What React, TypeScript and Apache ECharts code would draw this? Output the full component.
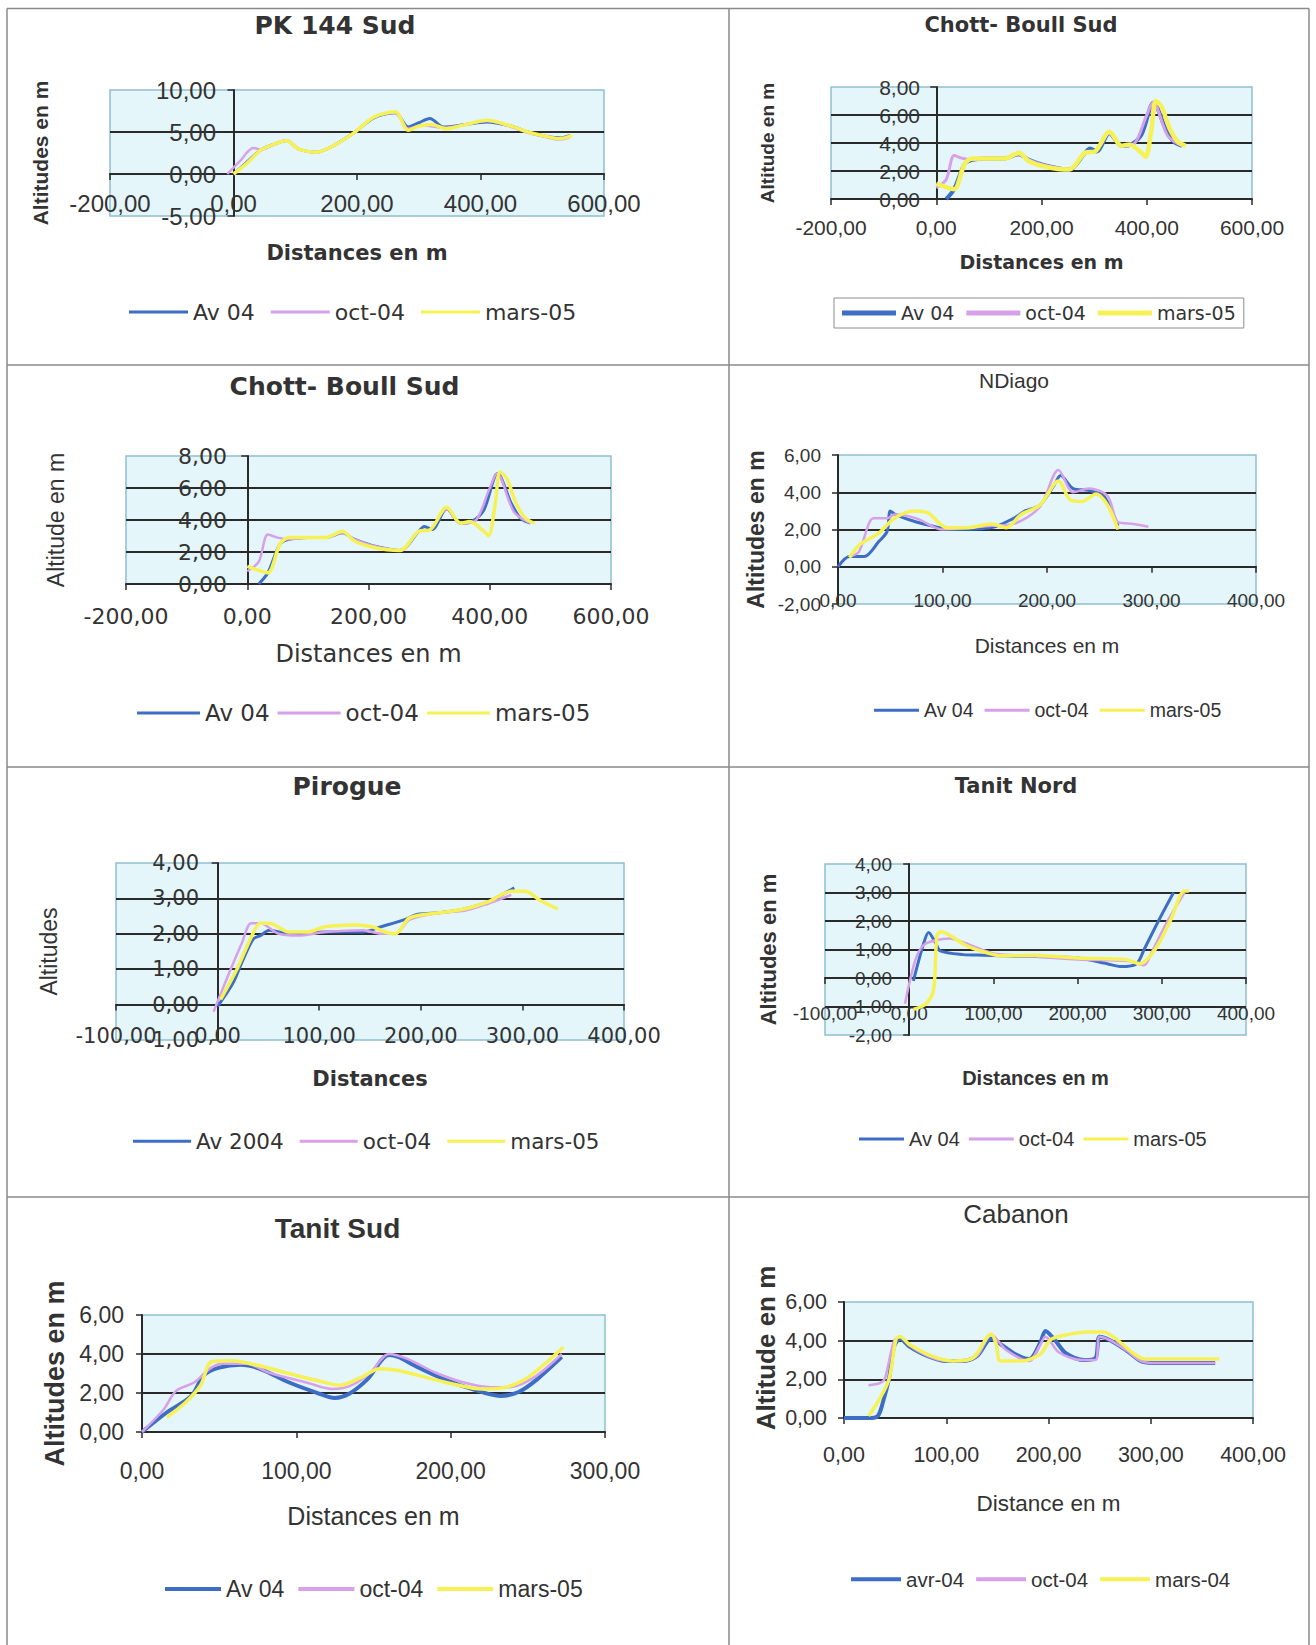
import React, { useEffect, useRef } from "react";
import * as echarts from "echarts";

// ---------------- Series names ----------------
const NAMES_STD = ["Av 04", "oct-04", "mars-05"];
const NAMES_PIROGUE = ["Av 2004", "oct-04", "mars-05"];
const NAMES_CABANON = ["avr-04", "oct-04", "mars-04"];

// ---------------- Data: [distance m, altitude m] ----------------
// PK 144 Sud
const pk144Av04 = [[0,0],[20,1.3],[45,2.9],[68,3.6],[86,4.0],[105,3.0],[135,2.6],[165,3.5],[195,4.9],[228,6.7],[262,7.3],[283,5.6],[300,6.1],[318,6.6],[340,5.6],[376,5.9],[410,6.2],[450,5.7],[477,5.0],[505,4.5],[530,4.3],[545,4.6]];
const pk144Oct04 = [[-10,0],[10,1.5],[32,3.1],[45,2.9],[68,3.6],[86,4.0],[105,3.0],[135,2.6],[165,3.5],[195,4.9],[228,6.8],[262,7.3],[283,5.4],[305,5.8],[340,5.5],[376,5.9],[410,6.3],[450,5.6],[477,4.9],[505,4.4],[528,4.1],[545,4.4]];
const pk144Mars05 = [[0,0],[22,1.3],[45,2.9],[68,3.6],[86,4.0],[105,3.0],[135,2.6],[165,3.5],[195,4.9],[228,6.8],[262,7.4],[283,5.2],[300,5.7],[320,5.9],[345,5.4],[376,5.9],[410,6.4],[450,5.7],[477,5.0],[505,4.5],[528,4.2],[548,4.6]];

// Chott- Boull Sud
const chottAv04 = [[19,0],[34,0.7],[54,2.5],[69,2.8],[100,2.9],[130,2.9],[157,3.2],[176,2.8],[207,2.4],[252,2.1],[283,3.3],[292,3.6],[305,3.4],[329,4.7],[352,3.8],[370,3.9],[390,4.6],[413,6.9],[436,5.0],[451,4.1],[467,3.8]];
const chottOct04 = [[0,0.8],[19,1.4],[34,3.1],[50,2.9],[69,2.8],[100,2.9],[130,2.9],[157,3.2],[176,2.8],[207,2.4],[252,2.1],[283,3.3],[302,3.4],[329,4.7],[352,3.8],[375,3.9],[400,6.0],[412,6.9],[440,4.5],[467,3.8]];
const chottMars05 = [[0,1.1],[15,0.9],[34,0.7],[54,2.5],[69,2.9],[100,2.9],[130,2.9],[157,3.3],[176,2.7],[207,2.3],[252,2.1],[283,3.3],[302,3.4],[329,4.8],[352,3.8],[367,3.9],[390,3.3],[398,3.0],[409,5.0],[417,7.0],[428,6.6],[444,5.0],[459,4.1],[474,3.8]];

// NDiago
const ndiagoAv04 = [[0,0],[11,0.55],[25,0.55],[39,1.35],[47,1.9],[50,3.0],[55,2.8],[75,2.4],[97,2.1],[111,2.0],[147,2.1],[168,2.6],[179,3.0],[193,3.3],[207,4.4],[213,4.9],[225,4.2],[240,4.1],[254,3.8],[261,3.1],[268,2.2]];
const ndiagoOct04 = [[11,0.55],[20,0.8],[34,2.6],[47,2.6],[54,2.8],[75,2.6],[100,2.0],[147,2.2],[168,2.3],[193,3.2],[211,5.2],[225,4.0],[240,4.2],[258,3.8],[268,2.4],[283,2.3],[297,2.15]];
const ndiagoMars05 = [[11,0.5],[21,1.2],[39,1.8],[54,2.6],[72,3.0],[86,2.9],[104,2.1],[125,2.1],[147,2.3],[161,2.1],[175,2.8],[193,3.3],[211,4.6],[222,3.6],[233,3.5],[247,3.9],[258,3.3],[268,2.0]];

// Pirogue
const pirogueAv2004 = [[0,-0.05],[15,0.6],[24,1.2],[35,1.85],[42,1.95],[51,2.1],[70,2.0],[106,2.05],[143,2.05],[161,2.2],[184,2.4],[197,2.55],[220,2.6],[243,2.7],[266,2.9],[292,3.3]];
const pirogueOct04 = [[-4,-0.2],[10,0.8],[24,1.75],[33,2.3],[42,2.3],[60,2.0],[79,1.95],[106,2.05],[143,2.1],[161,2.0],[175,2.0],[189,2.4],[220,2.6],[243,2.65],[266,2.85],[289,3.1]];
const pirogueMars05 = [[3,0.15],[19,1.0],[33,1.9],[42,2.3],[51,2.3],[70,2.05],[88,2.05],[106,2.2],[135,2.25],[152,2.2],[165,2.05],[175,2.0],[189,2.45],[220,2.6],[243,2.7],[266,2.9],[289,3.2],[303,3.2],[317,2.95],[335,2.7]];

// Tanit Nord
const tanitNordAv04 = [[5,-0.1],[17,1.2],[23,1.6],[31,1.25],[37,0.95],[64,0.82],[88,0.8],[150,0.75],[200,0.7],[235,0.5],[252,0.4],[270,0.5],[279,1.0],[296,2.0],[314,3.0]];
const tanitNordOct04 = [[-5,-0.9],[7,0.6],[17,1.15],[32,1.33],[48,1.39],[67,1.22],[88,0.98],[102,0.85],[150,0.75],[200,0.65],[261,0.6],[279,0.45],[288,0.9],[305,1.9],[327,3.0]];
const tanitNordMars05 = [[5,-1.1],[20,-0.9],[29,-0.4],[33,1.5],[38,1.62],[48,1.5],[67,1.15],[88,0.92],[110,0.78],[150,0.8],[200,0.7],[257,0.65],[274,0.5],[292,1.0],[310,2.0],[327,3.05],[332,3.05]];

// Tanit Sud
const tanitSudAv04 = [[0,0],[16,1.0],[32,1.85],[40,2.9],[50,3.3],[64,3.45],[76,3.25],[95,2.55],[112,2.05],[125,1.75],[134,1.95],[146,2.7],[160,3.95],[166,3.85],[178,3.35],[196,2.7],[214,2.2],[232,1.85],[244,2.05],[256,2.7],[272,3.85]];
const tanitSudOct04 = [[0,0],[14,1.15],[22,2.1],[34,2.55],[44,3.25],[52,3.5],[68,3.5],[82,3.05],[106,2.55],[124,2.2],[136,2.4],[148,3.05],[160,4.0],[172,3.75],[190,3.05],[208,2.55],[226,2.3],[238,2.3],[254,2.8],[272,4.0]];
const tanitSudMars05 = [[16,0.75],[28,1.5],[38,2.4],[45,3.6],[58,3.65],[76,3.4],[100,2.9],[118,2.55],[128,2.4],[142,2.8],[154,3.25],[166,3.15],[184,2.8],[202,2.45],[220,2.2],[236,2.3],[250,2.8],[273,4.35]];

// Cabanon
const cabanonAvr04 = [[0,0],[24,0],[33,0.1],[38,0.8],[44,2.05],[49,3.7],[55,4.1],[64,3.7],[82,3.2],[100,2.95],[115,2.95],[130,3.2],[144,4.1],[151,3.9],[166,3.35],[181,3.05],[192,3.9],[197,4.5],[206,4.05],[217,3.35],[235,3.0],[246,3.1],[250,4.2],[261,4.0],[276,3.5],[290,2.95],[301,2.85],[327,2.85],[363,2.85]];
const cabanonOct04 = [[24,1.7],[35,1.8],[40,2.05],[49,4.0],[55,4.2],[64,3.75],[82,3.2],[100,2.95],[115,2.95],[130,3.2],[144,4.3],[159,3.5],[181,2.95],[192,3.8],[197,4.2],[210,3.4],[232,3.0],[246,3.0],[250,4.2],[261,4.0],[276,3.5],[290,2.95],[301,2.85],[327,2.85],[363,2.85]];
const cabanonMars04 = [[24,0.1],[35,1.0],[44,2.0],[51,4.1],[55,4.2],[64,3.8],[86,3.2],[107,2.95],[126,3.1],[144,4.35],[149,3.8],[153,2.95],[173,2.95],[192,3.3],[202,4.05],[217,4.3],[239,4.45],[254,4.45],[268,4.0],[283,3.35],[294,3.05],[327,3.05],[367,3.05]];

// ---------------- Styles ----------------
const W = 1316;
const H = 1645;
const F_WIDE = "'DejaVu Sans', Verdana, sans-serif";
const F_ARIAL = "'Liberation Sans', Arial, sans-serif";
const TXT = "#333333";
const AXIS = "#2a2a2a";
const PLOT_BG = "#e4f6fa";
const PLOT_BORDER = "#8fbfd0";
const COLORS = ["#3e6dc5", "#d6a0ea", "#f6f154"];
const CELL = "#8a8a8a";

const fmt = (v: number) => v.toFixed(2).replace(".", ",");

type Panel = any;

// label margins and name gaps are measured from the grid edges
const panels: Panel[] = [
  {
    title: "PK 144 Sud", tx: 335, ty: 25, tFont: F_WIDE, tSize: 25, tWeight: "bold",
    grid: [110, 90, 494, 126], xr: [-200, 600, 200], yr: [-5, 10, 5],
    tickFont: F_ARIAL, tickSize: 24, xlm: -25, ylm: -106,
    xName: "Distances en m", xnFont: F_WIDE, xnSize: 21, xnWeight: "bold", xnGap: 26.5,
    yName: "Altitudes en m", ynFont: F_ARIAL, ynSize: 21, ynWeight: "bold", ynGap: 59, ynShift: 0,
    lg: { left: 129, cy: 312, iw: 59, ih: 3, font: F_WIDE, size: 22, gap: 16 },
    names: NAMES_STD, data: [pk144Av04, pk144Oct04, pk144Mars05], lw: [3, 2.5, 3.5],
  },
  {
    title: "Chott- Boull Sud", tx: 1021, ty: 25, tFont: F_WIDE, tSize: 21, tWeight: "bold",
    grid: [831, 87, 421, 112], xr: [-200, 600, 200], yr: [0, 8, 2],
    tickFont: F_ARIAL, tickSize: 21, xlm: 17.5, ylm: -89,
    xName: "Distances en m", xnFont: F_WIDE, xnSize: 19, xnWeight: "bold", xnGap: 53.5,
    yName: "Altitude en m", ynFont: F_ARIAL, ynSize: 19, ynWeight: "bold", ynGap: 54.5, ynShift: 0,
    lg: { left: 834, cy: 313, iw: 54, ih: 5, font: F_WIDE, size: 19, gap: 12, boxed: true },
    names: NAMES_STD, data: [chottAv04, chottOct04, chottMars05], lw: [4, 3, 4.5],
  },
  {
    title: "Chott- Boull Sud", tx: 344.5, ty: 386, tFont: F_WIDE, tSize: 25, tWeight: "bold",
    grid: [126, 456, 485, 128], xr: [-200, 600, 200], yr: [0, 8, 2],
    tickFont: F_WIDE, tickSize: 22, xlm: 21, ylm: -101,
    xName: "Distances en m", xnFont: F_WIDE, xnSize: 24, xnWeight: "normal", xnGap: 58,
    yName: "Altitude en m", ynFont: F_ARIAL, ynSize: 23, ynWeight: "normal", ynGap: 58.5, ynShift: 0,
    lg: { left: 137, cy: 713, iw: 63, ih: 3, font: F_WIDE, size: 23, gap: 8 },
    names: NAMES_STD, data: [chottAv04, chottOct04, chottMars05], lw: [3, 2.5, 3.5],
  },
  {
    title: "NDiago", tx: 1014, ty: 380, tFont: F_ARIAL, tSize: 21, tWeight: "normal",
    grid: [838, 455, 418, 149], xr: [0, 400, 100], yr: [-2, 6, 2],
    tickFont: F_ARIAL, tickSize: 19, xlm: -13.5, ylm: 17,
    xName: "Distances en m", xnFont: F_ARIAL, xnSize: 21, xnWeight: "normal", xnGap: 30.5,
    yName: "Altitudes en m", ynFont: F_ARIAL, ynSize: 23, ynWeight: "bold", ynGap: 70.5, ynShift: 0,
    lg: { left: 874, cy: 710, iw: 45, ih: 3, font: F_ARIAL, size: 19.5, gap: 11 },
    names: NAMES_STD, data: [ndiagoAv04, ndiagoOct04, ndiagoMars05], lw: [3, 2.5, 3.5],
  },
  {
    title: "Pirogue", tx: 347, ty: 786.5, tFont: F_WIDE, tSize: 25, tWeight: "bold",
    grid: [116, 863, 508, 177], xr: [-100, 400, 100], yr: [-1, 4, 1],
    tickFont: F_WIDE, tickSize: 21, xlm: -14.5, ylm: -83,
    xName: "Distances", xnFont: F_WIDE, xnSize: 21, xnWeight: "bold", xnGap: 28.5,
    yName: "Altitudes", ynFont: F_ARIAL, ynSize: 23, ynWeight: "normal", ynGap: 55.5, ynShift: 0,
    lg: { left: 133, cy: 1141, iw: 58, ih: 3, font: F_WIDE, size: 21.5, gap: 16 },
    names: NAMES_PIROGUE, data: [pirogueAv2004, pirogueOct04, pirogueMars05], lw: [3, 2.5, 3.5],
  },
  {
    title: "Tanit Nord", tx: 1016, ty: 786, tFont: F_WIDE, tSize: 21, tWeight: "bold",
    grid: [825, 864, 421, 171], xr: [-100, 400, 100], yr: [-2, 4, 1],
    tickFont: F_ARIAL, tickSize: 19, xlm: -31.5, ylm: -67,
    xName: "Distances en m", xnFont: F_ARIAL, xnSize: 20, xnWeight: "bold", xnGap: 33,
    yName: "Altitudes en m", ynFont: F_ARIAL, ynSize: 22, ynWeight: "bold", ynGap: 46, ynShift: 0,
    lg: { left: 859, cy: 1139, iw: 45, ih: 3, font: F_ARIAL, size: 20, gap: 9 },
    names: NAMES_STD, data: [tanitNordAv04, tanitNordOct04, tanitNordMars05], lw: [3, 2.5, 3.5],
  },
  {
    title: "Tanit Sud", tx: 337.5, ty: 1228.5, tFont: F_ARIAL, tSize: 28, tWeight: "bold",
    grid: [142, 1315, 463, 117], xr: [0, 300, 100], yr: [0, 6, 2],
    tickFont: F_ARIAL, tickSize: 23, xlm: 27, ylm: 18,
    xName: "Distances en m", xnFont: F_ARIAL, xnSize: 25, xnWeight: "normal", xnGap: 71.5,
    yName: "Altitudes en m", ynFont: F_ARIAL, ynSize: 27, ynWeight: "bold", ynGap: 74, ynShift: 0,
    lg: { left: 165, cy: 1589, iw: 56, ih: 4, font: F_ARIAL, size: 23, gap: 14 },
    names: NAMES_STD, data: [tanitSudAv04, tanitSudOct04, tanitSudMars05], lw: [4, 2.5, 3.5],
  },
  {
    title: "Cabanon", tx: 1016, ty: 1213.5, tFont: F_ARIAL, tSize: 26, tWeight: "normal",
    grid: [844, 1302, 409, 116], xr: [0, 400, 100], yr: [0, 6, 2],
    tickFont: F_ARIAL, tickSize: 21.5, xlm: 26.5, ylm: 17,
    xName: "Distance en m", xnFont: F_ARIAL, xnSize: 22.5, xnWeight: "normal", xnGap: 73.75,
    yName: "Altitude en m", ynFont: F_ARIAL, ynSize: 26, ynWeight: "bold", ynGap: 65.5, ynShift: 12,
    lg: { left: 851, cy: 1579, iw: 50, ih: 4, font: F_ARIAL, size: 20.5, gap: 12 },
    names: NAMES_CABANON, data: [cabanonAvr04, cabanonOct04, cabanonMars04], lw: [4, 2.5, 3.5],
  },
];

function buildOption() {
  const grid: any[] = [];
  const xAxis: any[] = [];
  const yAxis: any[] = [];
  const series: any[] = [];
  const title: any[] = [];
  const legend: any[] = [];

  panels.forEach((p, i) => {
    const [gl, gt, gw, gh] = p.grid;
    grid.push({
      left: gl, top: gt, width: gw, height: gh, show: true,
      backgroundColor: PLOT_BG, borderColor: PLOT_BORDER, borderWidth: 1.5,
      containLabel: false, outerBoundsMode: "none",
    });
    title.push({
      text: p.title, left: p.tx, top: p.ty - p.tSize / 2, textAlign: "center", padding: 0,
      textStyle: { fontFamily: p.tFont, fontSize: p.tSize, fontWeight: p.tWeight, color: TXT, lineHeight: p.tSize },
    });
    xAxis.push({
      gridIndex: i, type: "value", min: p.xr[0], max: p.xr[1], interval: p.xr[2],
      axisLine: { show: true, onZero: true, lineStyle: { color: AXIS, width: 2 } },
      axisTick: { show: true, length: 6, lineStyle: { color: AXIS, width: 1.5 } },
      splitLine: { show: false },
      axisLabel: {
        formatter: fmt, fontFamily: p.tickFont, fontSize: p.tickSize, color: TXT,
        margin: p.xlm, lineHeight: p.tickSize,
      },
      name: p.xName, nameLocation: "middle", nameGap: p.xnGap, nameMoveOverlap: false,
      nameTextStyle: { fontFamily: p.xnFont, fontSize: p.xnSize, fontWeight: p.xnWeight, color: TXT, lineHeight: p.xnSize },
    });
    yAxis.push({
      gridIndex: i, type: "value", min: p.yr[0], max: p.yr[1], interval: p.yr[2],
      axisLine: { show: true, onZero: true, lineStyle: { color: AXIS, width: 2 } },
      axisTick: { show: true, length: 6, lineStyle: { color: AXIS, width: 1.5 } },
      splitLine: { show: true, showMinLine: false, showMaxLine: false, lineStyle: { color: AXIS, width: 2 } },
      axisLabel: {
        formatter: fmt, fontFamily: p.tickFont, fontSize: p.tickSize, color: TXT,
        margin: p.ylm, lineHeight: p.tickSize,
      },
      name: p.yName, nameLocation: "middle", nameGap: p.ynGap, nameMoveOverlap: false,
      nameTextStyle: {
        fontFamily: p.ynFont, fontSize: p.ynSize, fontWeight: p.ynWeight, color: TXT, lineHeight: p.ynSize,
        padding: p.ynShift ? [0, 0, 0, p.ynShift * 2] : 0,
      },
    });
    p.names.forEach((name: string, k: number) => {
      series.push({
        name, type: "line", xAxisIndex: i, yAxisIndex: i, data: p.data[k],
        smooth: 0.3, symbol: "none", showSymbol: false, color: COLORS[k],
        lineStyle: { color: COLORS[k], width: p.lw[k] }, z: 3 + k, silent: true,
      });
    });
    const lg = p.lg;
    const lgItem: any = {
      left: lg.left, orient: "horizontal", icon: "rect",
      itemWidth: lg.iw, itemHeight: lg.ih, itemGap: lg.gap, selectedMode: false,
      data: p.names,
      textStyle: { fontFamily: lg.font, fontSize: lg.size, color: TXT, lineHeight: lg.size },
    };
    if (lg.boxed) {
      const pv = (30 - lg.size) / 2;
      lgItem.top = lg.cy - 15;
      lgItem.padding = [pv, 8, pv, 8];
      lgItem.borderColor = "#8c8c8c";
      lgItem.borderWidth = 1;
    } else {
      lgItem.top = lg.cy - lg.size / 2;
      lgItem.padding = 0;
    }
    legend.push(lgItem);
  });

  const cellLine = (x1: number, y1: number, x2: number, y2: number) => ({
    type: "line", shape: { x1, y1, x2, y2 }, style: { stroke: CELL, lineWidth: 1.5 }, silent: true,
  });
  const graphic = [
    cellLine(7, 8.5, 1309, 8.5),
    cellLine(7, 365, 1309, 365),
    cellLine(7, 767, 1309, 767),
    cellLine(7, 1197, 1309, 1197),
    cellLine(7, 8.5, 7, H),
    cellLine(729, 8.5, 729, H),
    cellLine(1309, 8.5, 1309, H),
  ];

  return {
    animation: false,
    backgroundColor: "#ffffff",
    title, grid, xAxis, yAxis, series, legend, graphic,
  };
}

export default function App() {
  const ref = useRef<HTMLDivElement>(null);
  useEffect(() => {
    if (!ref.current) return;
    const chart = echarts.init(ref.current, null, { renderer: "svg", width: W, height: H });
    chart.setOption(buildOption() as any);
    return () => chart.dispose();
  }, []);
  return (
    <div
      ref={ref}
      style={{ position: "absolute", left: 0, top: 0, width: W, height: H, background: "#fff" }}
    />
  );
}
